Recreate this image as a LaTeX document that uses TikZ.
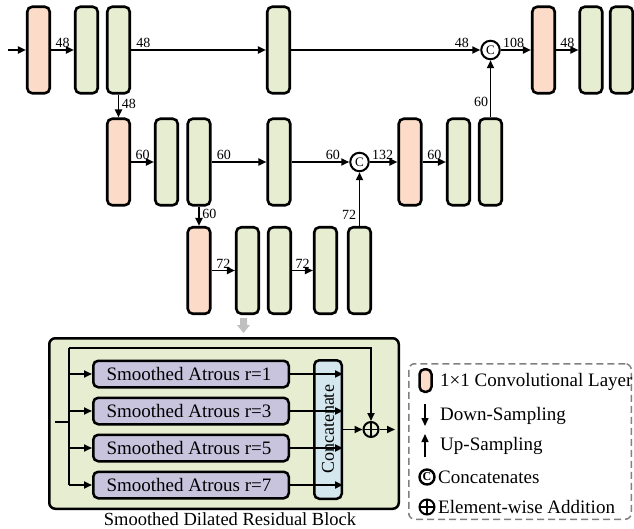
\documentclass[tikz,border=0pt]{standalone}
\usepackage{fontspec}
\setmainfont{Liberation Serif}
\usetikzlibrary{arrows.meta}
\definecolor{salm}{RGB}{252,220,200}
\definecolor{grn}{RGB}{230,237,208}
\definecolor{purp}{RGB}{200,196,222}
\definecolor{lblue}{RGB}{212,230,238}
\definecolor{arrgray}{RGB}{192,192,192}
\begin{document}
\begin{tikzpicture}[x=1pt,y=-1pt,
  layer/.style={draw, rounded corners=5pt, line width=2.6pt, minimum width=22.5pt, minimum height=86.5pt, inner sep=0pt},
  conv/.style={layer, fill=salm},
  feat/.style={layer, fill=grn},
  arr/.style={line width=1.8pt, -{Triangle[length=8pt,width=7pt]}},
  ln/.style={line width=1.8pt},
  lab/.style={font=\fontsize{14}{14}\selectfont, inner sep=1.5pt},
  cat/.style={draw, circle, line width=2pt, minimum size=18.5pt, inner sep=0pt, fill=white, font=\fontsize{13}{13}\selectfont},
  plus/.style={draw, circle, line width=2pt, minimum size=15pt, inner sep=0pt,
    path picture={\draw[line width=1.8pt] (path picture bounding box.north) -- (path picture bounding box.south) (path picture bounding box.west) -- (path picture bounding box.east);}},
  txt/.style={font=\fontsize{18.5}{18.5}\selectfont},
  ltxt/.style={font=\fontsize{19}{19}\selectfont, anchor=west, inner sep=0pt},
  atr/.style={draw, fill=purp, rounded corners=5pt, line width=2.5pt, minimum width=195.5pt, minimum height=26.5pt, inner sep=0pt, font=\fontsize{19}{19}\selectfont},
]
\useasboundingbox (0,0) rectangle (634,529);

% ---- top row
\node[conv] (t1) at (38.5,50) {};
\node[feat] (t2) at (86.5,50) {};
\node[feat] (t3) at (118.5,50) {};
\node[feat] (t4) at (278.5,50) {};
\node[cat]  (c1) at (490.5,50) {C};
\node[conv] (t5) at (543.5,50) {};
\node[feat] (t6) at (591,50) {};
\node[feat] (t7) at (621.5,50) {};
\coordinate (tin) at (8,50);

% ---- middle row
\node[conv] (m1) at (118.5,162) {};
\node[feat] (m2) at (166.5,162) {};
\node[feat] (m3) at (199,162) {};
\node[feat] (m4) at (279,162) {};
\node[cat]  (c2) at (359.5,162) {C};
\node[conv] (m5) at (410,162) {};
\node[feat] (m6) at (458.5,162) {};
\node[feat] (m7) at (490.5,162) {};

% ---- lower row
\node[conv] (l1) at (199,270.5) {};
\node[feat] (l2) at (247.5,270.5) {};
\node[feat] (l3) at (279.5,270.5) {};
\node[feat] (l4) at (325.5,270.5) {};
\node[feat] (l5) at (359.5,270.5) {};

% ---- connectors top
\draw[arr] (tin) -- (t1);
\draw[arr] (t1) -- node[lab, above] {48} (t2);
\draw[arr] (t3) -- node[lab, anchor=south west, pos=0, xshift=3pt] {48} (t4);
\draw[arr] (t4) -- node[lab, anchor=south east, pos=1, xshift=-9pt] {48} (c1);
\draw[arr] (c1) -- node[lab, anchor=south west, pos=0] {108} (t5);
\draw[arr] (t5) -- node[lab, above] {48} (t6);
\draw[arr] (t3) -- node[lab, anchor=west, pos=0.4, xshift=1pt] {48} (m1);

% ---- connectors middle
\draw[arr] (m1) -- node[lab, above] {60} (m2);
\draw[arr] (m3) -- node[lab, anchor=south west, pos=0, xshift=3pt] {60} (m4);
\draw[arr] (m4) -- node[lab, anchor=south east, pos=1, xshift=-7pt] {60} (c2);
\draw[arr] (c2) -- node[lab, anchor=south west, pos=0] {132} (m5);
\draw[arr] (m5) -- node[lab, above] {60} (m6);
\draw[arr] (m7) -- node[lab, anchor=east, pos=0.28] {60} (c1);
\draw[arr] (m3) -- node[lab, anchor=west, pos=0.4, xshift=1pt] {60} (l1);

% ---- connectors lower
\draw[arr] (l1) -- node[lab, above] {72} (l2);
\draw[arr] (l3) -- node[lab, above] {72} (l4);
\draw[arr] (l5) -- node[lab, anchor=east, pos=0.2, xshift=-1pt] {72} (c2);

% ---- gray arrow
\fill[arrgray] (240,318) -- (247,318) -- (247,325) -- (250,325) -- (243.5,333) -- (237,325) -- (240,325) -- cycle;

% ---- residual block
\node[draw, fill=grn, line width=2.5pt, rounded corners=6pt, minimum width=349.5pt, minimum height=170.5pt, inner sep=0pt] (sdrb) at (224,423.5) {};
\node[txt] (cap) at (230,519) {Smoothed Dilated Residual Block};
\node[atr] (a1) at (191,374) {\hspace*{-4pt}Smoothed Atrous r=1};
\node[atr] (a2) at (191,411) {\hspace*{-4pt}Smoothed Atrous r=3};
\node[atr] (a3) at (191,448) {\hspace*{-4pt}Smoothed Atrous r=5};
\node[atr] (a4) at (191,485) {\hspace*{-4pt}Smoothed Atrous r=7};
\node[draw, fill=lblue, rounded corners=5pt, line width=2.5pt, minimum width=138.5pt, minimum height=27.5pt, inner sep=0pt, font=\fontsize{18}{18}\selectfont, rotate=90] (cc) at (328,429.5) {Concatenate};
\node[plus, fill=grn] (pl) at (371,429.5) {};
\coordinate (bin) at (55,422);
\coordinate (br) at (69,422);
\coordinate (bt) at (69,348);
\coordinate (bout) at (395,429.5);

\draw[ln] (bin) -- (br);
\draw[ln] (bt) -- (a4.west -| br);
\foreach \a in {a1,a2,a3,a4} {
  \draw[arr] (\a.west -| br) -- (\a.west);
  \draw[arr] (\a.east) -- (\a.east -| cc.south);
}
\draw[arr] (bt) -- (bt -| pl) -- (pl.north);
\draw[arr] (cc) -- (pl);
\draw[arr] (pl) -- (bout);

% ---- legend
\node[draw=gray, dash pattern=on 7pt off 4pt, line width=1.5pt, rounded corners=6pt, minimum width=222.5pt, minimum height=155.5pt, inner sep=0pt] (leg) at (520,441.5) {};
\node[conv, minimum width=12pt, minimum height=22.5pt, rounded corners=5pt, line width=2.5pt] (lg1) at (425.5,380.5) {};
\node[ltxt] (lt1) at (440,382) {1×1 Convolutional Layer};
\coordinate (d1) at (425,404);
\coordinate (d2) at (425,426);
\draw[arr, line width=1.5pt] (d1) -- (d2);
\node[ltxt] (lt2) at (440,416) {Down-Sampling};
\coordinate (u1) at (425,457);
\coordinate (u2) at (425,434);
\draw[arr, line width=1.5pt] (u1) -- (u2);
\node[ltxt] (lt3) at (440,446) {Up-Sampling};
\node[cat, minimum size=15pt, line width=2.4pt, font=\fontsize{12}{12}\selectfont\bfseries] (lg4) at (427,477) {C};
\node[ltxt] (lt4) at (438,477) {Concatenates};
\node[plus] (lg5) at (427,507) {};
\node[ltxt] (lt5) at (438,507) {Element-wise Addition};
\end{tikzpicture}
\end{document}
